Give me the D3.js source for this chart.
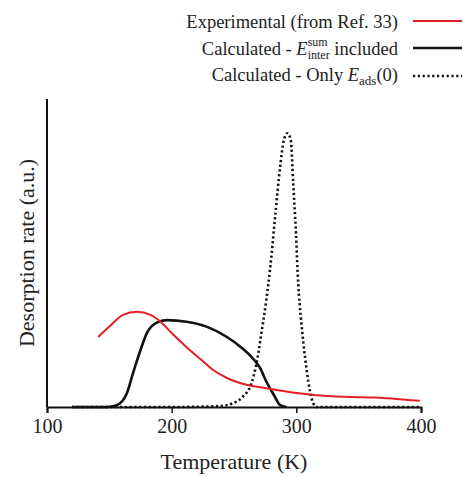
<!DOCTYPE html>
<html>
<head>
<meta charset="utf-8">
<script src="https://cdn.jsdelivr.net/npm/d3@7"></script>
<style>
  body { margin: 0; background: #fff; }
  text { font-family: "Liberation Serif", "Times New Roman", serif; fill: #222; }
</style>
</head>
<body>
<svg id="chart" width="463" height="477"></svg>
<script>
// Temperature (K) and desorption rate (a.u.)
var expT   = [141, 150, 161, 172, 183, 191, 201, 212, 223, 233, 244, 260, 276, 297, 314, 338, 364, 383, 399];
var expV   = [0.227, 0.261, 0.299, 0.309, 0.299, 0.277, 0.236, 0.194, 0.156, 0.121, 0.095, 0.072, 0.061, 0.047, 0.039, 0.033, 0.031, 0.025, 0.02];

var interT = [120, 148, 156, 164, 169, 175, 180, 188, 196, 212, 228, 244, 255, 265, 271, 276, 282, 287, 292];
var interV = [0, 0, 0.006, 0.044, 0.11, 0.185, 0.239, 0.274, 0.282, 0.277, 0.261, 0.228, 0.196, 0.158, 0.126, 0.082, 0.039, 0.006, 0];

var adsT   = [120, 200, 239, 249, 257, 264, 268, 272, 276, 279, 283, 287, 290, 293, 295.5, 297.5, 299.7, 301.5, 303.7, 305.6, 308.3, 311, 313.6, 316, 360, 400];
var adsV   = [0, 0, 0.003, 0.012, 0.033, 0.077, 0.14, 0.24, 0.35, 0.45, 0.618, 0.78, 0.867, 0.889, 0.867, 0.726, 0.564, 0.402, 0.288, 0.21, 0.12, 0.05, 0.012, 0, 0, 0];

var xTicks = [100, 200, 300, 400];

var svg = d3.select("#chart");

var x = d3.scaleLinear().domain([100, 400]).range([47, 421]);
var y = d3.scaleLinear().domain([0, 1]).range([407, 99]);

function zip(ts, vs) {
  return ts.map(function(t, i) { return [t, vs[i]]; });
}

var line = d3.line()
  .x(function(d) { return x(d[0]); })
  .y(function(d) { return y(d[1]); })
  .curve(d3.curveMonotoneX);

// axes
var xAxis = d3.axisBottom(x).tickValues(xTicks).tickSize(6).tickPadding(6).tickFormat(d3.format("d"));
var gx = svg.append("g").attr("transform", "translate(0," + y(0) + ")").call(xAxis);
gx.select(".domain").attr("stroke", "#111").attr("stroke-width", 2);
gx.selectAll(".tick line").attr("stroke", "#111").attr("stroke-width", 1.5);
gx.selectAll(".tick text")
  .attr("font-size", 20)
  .attr("font-family", "Liberation Serif, serif")
  .attr("fill", "#222");

svg.append("line")
  .attr("x1", x(100)).attr("x2", x(100))
  .attr("y1", y(0)).attr("y2", y(1))
  .attr("stroke", "#111").attr("stroke-width", 2);

// curves
svg.append("path").datum(zip(adsT, adsV))
  .attr("d", line).attr("fill", "none")
  .attr("stroke", "#111").attr("stroke-width", 2.6)
  .attr("stroke-dasharray", "2.2,2.6");

svg.append("path").datum(zip(interT, interV))
  .attr("d", line).attr("fill", "none")
  .attr("stroke", "#111").attr("stroke-width", 2.6);

svg.append("path").datum(zip(expT, expV))
  .attr("d", line).attr("fill", "none")
  .attr("stroke", "#e41e26").attr("stroke-width", 2);

// axis titles
svg.append("text")
  .attr("x", 234).attr("y", 469)
  .attr("text-anchor", "middle")
  .attr("font-size", 22)
  .text("Temperature (K)");

svg.append("text")
  .attr("transform", "translate(34,253) rotate(-90)")
  .attr("text-anchor", "middle")
  .attr("font-size", 22)
  .text("Desorption rate (a.u.)");

// legend
var legend = svg.append("g").attr("font-size", 18.5);

legend.append("text").attr("x", 398).attr("y", 28).attr("text-anchor", "end")
  .text("Experimental (from Ref. 33)");

var t2 = legend.append("text").attr("x", 398).attr("y", 55).attr("text-anchor", "end");
t2.append("tspan").text("Calculated - ");
t2.append("tspan").attr("font-style", "italic").text("E");
t2.append("tspan").attr("font-size", 12).attr("dy", -9).text("sum");
t2.append("tspan").attr("font-size", 12).attr("dx", -20).attr("dy", 13).text("inter");
t2.append("tspan").attr("dy", -4).text(" included");

var t3 = legend.append("text").attr("x", 398).attr("y", 81).attr("text-anchor", "end");
t3.append("tspan").text("Calculated - Only ");
t3.append("tspan").attr("font-style", "italic").text("E");
t3.append("tspan").attr("font-size", 13).attr("dy", 4).text("ads");
t3.append("tspan").attr("dy", -4).text("(0)");

legend.append("line").attr("x1", 413).attr("x2", 462).attr("y1", 21).attr("y2", 21)
  .attr("stroke", "#e41e26").attr("stroke-width", 2);
legend.append("line").attr("x1", 413).attr("x2", 462).attr("y1", 48).attr("y2", 48)
  .attr("stroke", "#111").attr("stroke-width", 2.6);
legend.append("line").attr("x1", 413).attr("x2", 462).attr("y1", 76).attr("y2", 76)
  .attr("stroke", "#111").attr("stroke-width", 2.6).attr("stroke-dasharray", "2.2,2.6");
</script>
</body>
</html>
